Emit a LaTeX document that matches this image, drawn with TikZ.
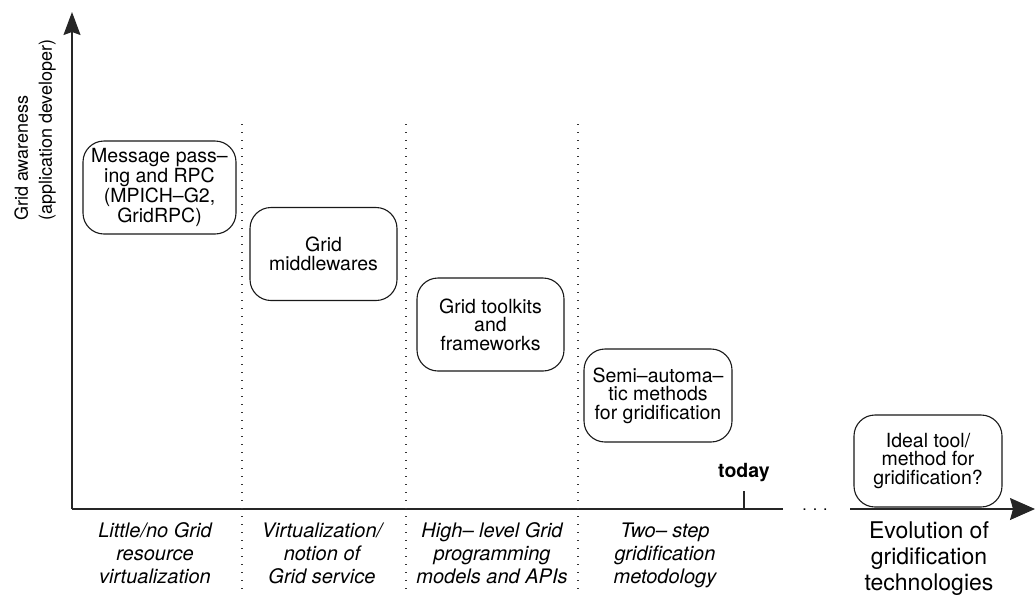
\documentclass[tikz,border=0pt]{standalone}
\usepackage{fontspec}
\setmainfont{TeX Gyre Heros}
\usetikzlibrary{arrows.meta}
\begin{document}
\begin{tikzpicture}[x=1pt,y=-1pt,
  axis/.style={line width=1.3pt, draw=black!85},
  sepline/.style={line width=1.3pt, dash pattern=on 1.3pt off 6.7pt, draw=black!80},
  era/.style={draw=black!90, line width=1.1pt, rounded corners=21pt, minimum width=148pt,
    minimum height=93pt, inner sep=0pt, align=center, font=\fontsize{19.5}{18.5}\selectfont},
  lab/.style={align=center, inner sep=0pt, anchor=base, font=\fontsize{20}{23}\selectfont\itshape},
]
\useasboundingbox (0,0) rectangle (1036,595);

% axes
\coordinate (O) at (72,509);
\coordinate (ytop) at (72,12);
\coordinate (xend1) at (783,509);
\coordinate (xstart2) at (850,509);
\coordinate (xtip) at (1035,509);
\draw[axis, -{Stealth[length=23pt,width=17pt,inset=3pt]}] (O) -- (ytop);
\draw[axis] (O) -- (xend1);
\draw[axis, -{Stealth[length=25pt,width=22pt,inset=3pt]}] (xstart2) -- (xtip);
\node[font=\fontsize{16}{16}\selectfont, inner sep=0pt, anchor=base] (dots) at (815,510.5) {. . .};

% today tick
\coordinate (t1) at (744,509);
\coordinate (t2) at (744,491);
\draw[axis] (t1) -- (t2);
\node[font=\fontsize{19.5}{20}\selectfont\bfseries, inner sep=0pt, anchor=base] (today) at (744,477) {today};

% separators
\foreach \x/\n in {242/a,406/b,578/c}{
  \coordinate (s\n1) at (\x,124);
  \coordinate (s\n2) at (\x,591);
  \draw[sepline] (s\n1) -- (s\n2);
}

% y label
\node[rotate=90, anchor=west, align=left, inner sep=0pt,
  font=\fontsize{18}{24}\selectfont] (ylab) at (35,221)
  {Grid awareness\\(application developer)};

% boxes
\node[era, minimum width=153pt] (b1) at (159.5,187.5) {Message pass–\\ing and RPC\\(MPICH–G2,\\GridRPC)};
\node[era, minimum width=147pt] (b2) at (323.5,254) {Grid\\middlewares};
\node[era, minimum width=147pt] (b3) at (490.5,324.5) {Grid toolkits\\and\\frameworks};
\node[era] (b4) at (658,395.5) {Semi–automa–\\tic methods\\for gridification};
\node[era, minimum height=92pt] (b5) at (928,461) {Ideal tool/\\method for\\gridification?};

% bottom labels (anchor = baseline of last line)
\node[lab] (l1) at (155,583) {Little/no Grid\\resource\\virtualization};
\node[lab] (l2) at (322,583) {Virtualization/\\notion of\\Grid service};
\node[lab] (l3) at (492,583) {High– level Grid\\programming\\models and APIs};
\node[lab] (l4) at (665,583) {Two– step\\gridification\\metodology};
\node[align=center, inner sep=0pt, anchor=base, font=\fontsize{23}{26}\selectfont] (evo) at (929,590)
  {Evolution of\\gridification\\technologies};
\end{tikzpicture}
\end{document}
